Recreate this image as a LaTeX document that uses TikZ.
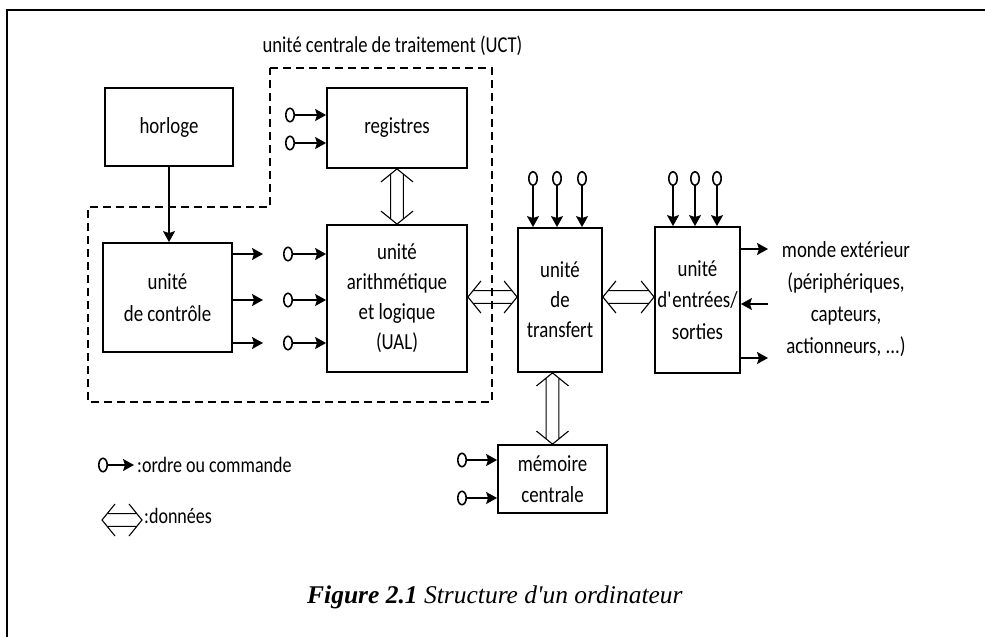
\documentclass[tikz,border=0pt]{standalone}
\usepackage{fontspec}
\setmainfont{Carlito}[FakeStretch=0.82]
\newfontfamily\capfont{Liberation Serif}
\usetikzlibrary{arrows.meta,calc}
\tikzset{
  box/.style={draw, line width=1.8pt, inner sep=0pt, align=center, font=\fontsize{23}{30}\selectfont},
  cmd/.style={line width=1.6pt, {Circle[open,length=10pt,width=15pt]}-{Stealth[length=11pt,width=12pt,inset=2pt]}},
  cmdv/.style={line width=1.6pt, {Circle[open,length=15pt,width=10pt]}-{Stealth[length=11pt,width=12pt,inset=2pt]}},
  outarrow/.style={line width=1.6pt, -{Stealth[length=11pt,width=12pt,inset=2pt]}},
  data/.style={line width=1.1pt},
  uct/.style={line width=1.8pt, dash pattern=on 8pt off 5pt},
  lbl/.style={font=\fontsize{23}{30}\selectfont, inner sep=0pt, align=center},
  frame/.style={line width=1.5pt}
}
\newcommand\dataarrow[2]{%
  \draw[data] let \p1=(#1), \p2=(#2),
     \n1={atan2(\y2-\y1,\x2-\x1)}, \n2={veclen(\x2-\x1,\y2-\y1)} in
     [shift={(\p1)}, rotate=\n1]
     (13,16) -- (0,0) -- (13,-16)
     (\n2-13,16) -- (\n2,0) -- (\n2-13,-16)
     (5.2,6.4) -- (\n2-5.2,6.4)
     (5.2,-6.4) -- (\n2-5.2,-6.4);}
\begin{document}
\begin{tikzpicture}[x=1pt,y=-1pt]
\useasboundingbox (0,0) rectangle (985,637);
% frame
\draw[frame] (7,637) -- (7,10) -- (985,10);
% UCT boundary
\draw[uct] (270,68) -- (492,68) -- (492,402) -- (88,402) -- (88,207) -- (270,207) -- cycle;
\node[lbl, font=\fontsize{22.7}{30}\selectfont, anchor=base] (uct) at (392.5,52) {unité centrale de traitement (UCT)};
% boxes
\node[box, minimum width=128pt, minimum height=78pt] (horloge) at (169,127) {horloge};
\node[box, minimum width=140pt, minimum height=80pt] (registres) at (397,128) {registres};
\node[box, minimum width=129pt, minimum height=109pt, font=\fontsize{23}{32}\selectfont] (controle) at (167.5,297.5) {unité\\de contrôle};
\node[box, minimum width=140pt, minimum height=147pt] (ual) at (397,298.5) {unité\\arithmétique\\et logique\\(UAL)};
\node[box, minimum width=84pt, minimum height=144pt] (transfert) at (560,300) {unité\\de\\transfert};
\node[box, minimum width=85pt, minimum height=146pt, font=\fontsize{23}{31.5}\selectfont] (es) at (697.5,300) {unité\\d\textquotesingle entrées/\\sorties};
\node[box, minimum width=109pt, minimum height=68pt, font=\fontsize{23}{31}\selectfont] (memoire) at (552.5,479) {mémoire\\centrale};
% clock
\draw[outarrow] (horloge.south) -- (horloge.south |- controle.north);
% registres commands
\coordinate (r1) at (285,115); \draw[cmd] (r1) -- (r1 -| registres.west);
\coordinate (r2) at (285,143); \draw[cmd] (r2) -- (r2 -| registres.west);
% UAL commands
\coordinate (u1) at (283,254); \draw[cmd] (u1) -- (u1 -| ual.west);
\coordinate (u2) at (283,300); \draw[cmd] (u2) -- (u2 -| ual.west);
\coordinate (u3) at (283,343); \draw[cmd] (u3) -- (u3 -| ual.west);
% control outputs
\coordinate (k1) at (263,254); \draw[outarrow] (controle.east |- k1) -- (k1);
\coordinate (k2) at (263,300); \draw[outarrow] (controle.east |- k2) -- (k2);
\coordinate (k3) at (263,343); \draw[outarrow] (controle.east |- k3) -- (k3);
% transfert commands
\coordinate (t1) at (533,171); \draw[cmdv] (t1) -- (t1 |- transfert.north);
\coordinate (t2) at (557,171); \draw[cmdv] (t2) -- (t2 |- transfert.north);
\coordinate (t3) at (582,171); \draw[cmdv] (t3) -- (t3 |- transfert.north);
% E/S commands
\coordinate (e1) at (673,171); \draw[cmdv] (e1) -- (e1 |- es.north);
\coordinate (e2) at (695,171); \draw[cmdv] (e2) -- (e2 |- es.north);
\coordinate (e3) at (717,171); \draw[cmdv] (e3) -- (e3 |- es.north);
% memoire commands
\coordinate (mc1) at (457,460); \draw[cmd] (mc1) -- (mc1 -| memoire.west);
\coordinate (mc2) at (457,498); \draw[cmd] (mc2) -- (mc2 -| memoire.west);
% outside world
\coordinate (m1) at (768,249); \draw[outarrow] (es.east |- m1) -- (m1);
\coordinate (m2) at (768,304); \draw[outarrow] (m2) -- (m2 -| es.east);
\coordinate (m3) at (768,358); \draw[outarrow] (es.east |- m3) -- (m3);
\node[lbl, font=\fontsize{23}{32}\selectfont] (monde) at (846,299) {monde extérieur\\(périphériques,\\capteurs,\\actionneurs, ...)};
% data arrows
\dataarrow{registres.south}{ual.north}
\coordinate (d1) at ([yshift=1.5pt]ual.east);
\coordinate (d2) at (d1 -| transfert.west);
\dataarrow{d1}{d2}
\coordinate (d3) at ([yshift=3pt]transfert.east);
\coordinate (d4) at (d3 -| es.west);
\dataarrow{d3}{d4}
\coordinate (d5) at (memoire.north |- transfert.south);
\dataarrow{d5}{memoire.north}
% legend
\coordinate (lg1) at (98,465); \coordinate (lg2) at (134,465);
\draw[cmd] (lg1) -- (lg2);
\node[lbl, font=\fontsize{22}{26}\selectfont, anchor=base west] (lgtxt1) at (137,472) {:ordre ou commande};
\coordinate (ld1) at (102,520); \coordinate (ld2) at (142,520);
\dataarrow{ld1}{ld2}
\node[lbl, font=\fontsize{22}{26}\selectfont, anchor=base west] (lgtxt2) at (144,523) {:données};
% caption
\node[inner sep=0pt, anchor=base west] (caption) at (307,603) {\capfont\fontsize{25.5}{30}\selectfont\bfseries\itshape Figure 2.1 \mdseries Structure d\textquotesingle un ordinateur};
\end{tikzpicture}
\end{document}
